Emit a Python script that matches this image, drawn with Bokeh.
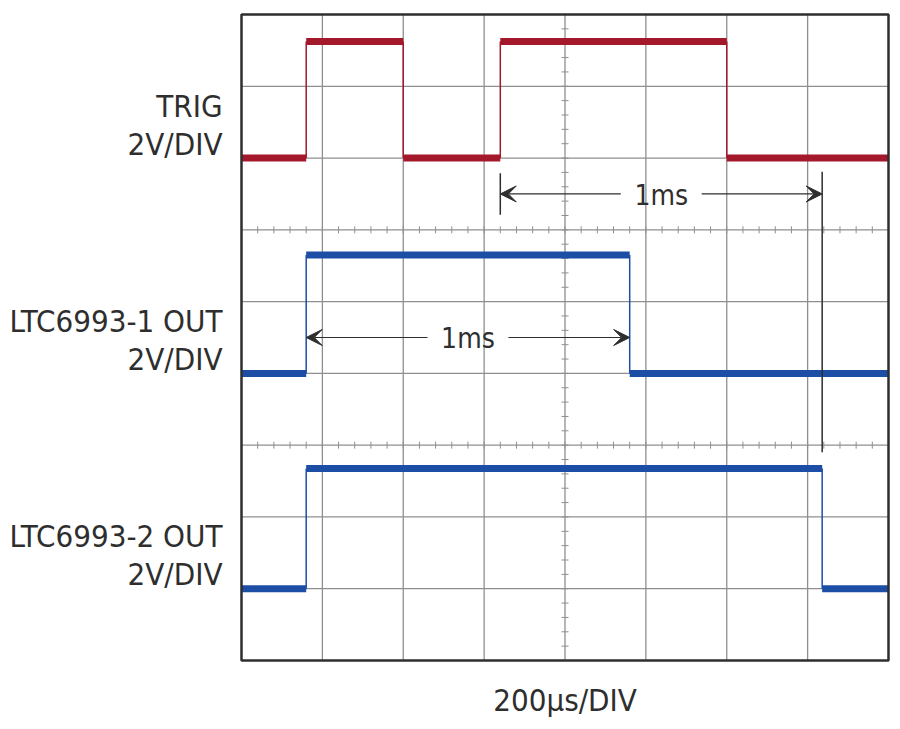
import numpy as np
from bokeh.plotting import figure
from bokeh.models import Label, Arrow, VeeHead, Range1d
from bokeh.embed import file_html
from bokeh.resources import INLINE

# scope settings: 200us per division, 8 x 9 divisions, 2V per division
t_div = 200
n_xdiv = 8
n_ydiv = 9
v_per_div = 2.0

# each trace: times of the level changes (us) and the level held between them (V)
trig_t = [0, 160, 400, 640, 1200, 1600]
trig_v = [0.0, 3.25, 0.0, 3.25, 0.0]
out1_t = [0, 160, 960, 1600]
out1_v = [0.0, 3.3, 0.0]
out2_t = [0, 160, 1436, 1600]
out2_v = [0.0, 3.35, 0.0]

# ground position of each channel, in divisions from the bottom
trig_zero = 7.0
out1_zero = 4.0
out2_zero = 1.0

channel_names = ["TRIG", "LTC6993-1 OUT", "LTC6993-2 OUT"]
channel_scale = "2V/DIV"
time_label = "200\u00b5s/DIV"
pulse_label = "1ms"

RED = "#a3182b"
BLUE = "#1d4ea6"
GRID = "#8f8f8f"
INK = "#2e2e2e"
FONT = "DejaVu Sans Condensed"

# page geometry: the scope screen sits at (241, 14), 647 x 646 px
W, H = 892, 729
scr_left, scr_top, scr_w, scr_h = 241, 14, 647, 646
t_end = n_xdiv * t_div
us_px = t_end / scr_w
div_px = n_ydiv / scr_h

p = figure(width=W, height=H, output_backend="svg", toolbar_location=None,
           x_axis_type=None, y_axis_type=None,
           x_range=Range1d(-scr_left * us_px, (W - scr_left) * us_px),
           y_range=Range1d(-(H - scr_top - scr_h) * div_px, n_ydiv + scr_top * div_px),
           min_border=0)
p.outline_line_color = None
p.grid.visible = False
p.background_fill_color = "white"
p.border_fill_color = "white"

# graticule
gx = list(range(t_div, t_end, t_div))
gy = list(range(1, n_ydiv))
p.segment(x0=gx, y0=[0] * len(gx), x1=gx, y1=[n_ydiv] * len(gx), line_color=GRID, line_width=1.3)
p.segment(x0=[0] * len(gy), y0=gy, x1=[t_end] * len(gy), y1=gy, line_color=GRID, line_width=1.3)

# minor ticks on the centre line and on the channel separators
minor_y = np.arange(0, n_ydiv, 0.2)
p.dash(x=[t_end / 2] * len(minor_y), y=minor_y, size=7, angle=0,
       line_color=GRID, line_width=1)
minor_x = np.arange(0, t_end, t_div / 5)
for sep in [3, 6]:
    p.dash(x=minor_x, y=[sep] * len(minor_x), size=7, angle=np.pi / 2,
           line_color=GRID, line_width=1)


def draw_trace(t, v, zero, color):
    y = [zero + lv / v_per_div for lv in v]
    # flat parts are thick (noisy trace), edges are thin
    p.segment(x0=t[:-1], y0=y, x1=t[1:], y1=y, line_color=color, line_width=7, line_cap="butt")
    p.segment(x0=t[1:-1], y0=y[:-1], x1=t[1:-1], y1=y[1:], line_color=color, line_width=1.5)


draw_trace(trig_t, trig_v, trig_zero, RED)
draw_trace(out1_t, out1_v, out1_zero, BLUE)
draw_trace(out2_t, out2_v, out2_zero, BLUE)

# screen border
p.quad(left=[0], right=[t_end], bottom=[0], top=[n_ydiv], fill_color=None,
       line_color=INK, line_width=2.5)


def text(x, y, s, size, align="right", baseline="alphabetic"):
    p.add_layout(Label(x=x, y=y, text=s, text_font=FONT, text_font_size=size,
                       text_color=INK, text_align=align, text_baseline=baseline))


# channel labels left of the screen
for name, zero in zip(channel_names, [trig_zero, out1_zero, out2_zero]):
    text(-47, zero + 0.73, name, "31px")
    text(-47, zero + 0.20, channel_scale, "31px")

text(t_end / 2, -0.55, time_label, "31px", align="center")


def span(t0, t1, y):
    mid = (t0 + t1) / 2
    gap = 100
    for start, end in [(mid - gap, t0), (mid + gap, t1)]:
        p.add_layout(Arrow(end=VeeHead(size=16, fill_color=INK, line_color=INK),
                           x_start=start, y_start=y, x_end=end, y_end=y,
                           line_color=INK, line_width=1.2))
    text(mid, y - 0.02, pulse_label, "28px", align="center", baseline="middle")


# trigger to LTC6993-2 falling edge
span(trig_t[3], out2_t[2], 6.5)
p.segment(x0=[trig_t[3]], y0=[6.21], x1=[trig_t[3]], y1=[6.79], line_color=INK, line_width=1.5)
p.segment(x0=[out2_t[2]], y0=[2.9], x1=[out2_t[2]], y1=[6.81], line_color=INK, line_width=1.5)

# LTC6993-1 pulse width
span(out1_t[1], out1_t[2], 4.5)

open("out.html", "w").write(file_html(p, INLINE))
